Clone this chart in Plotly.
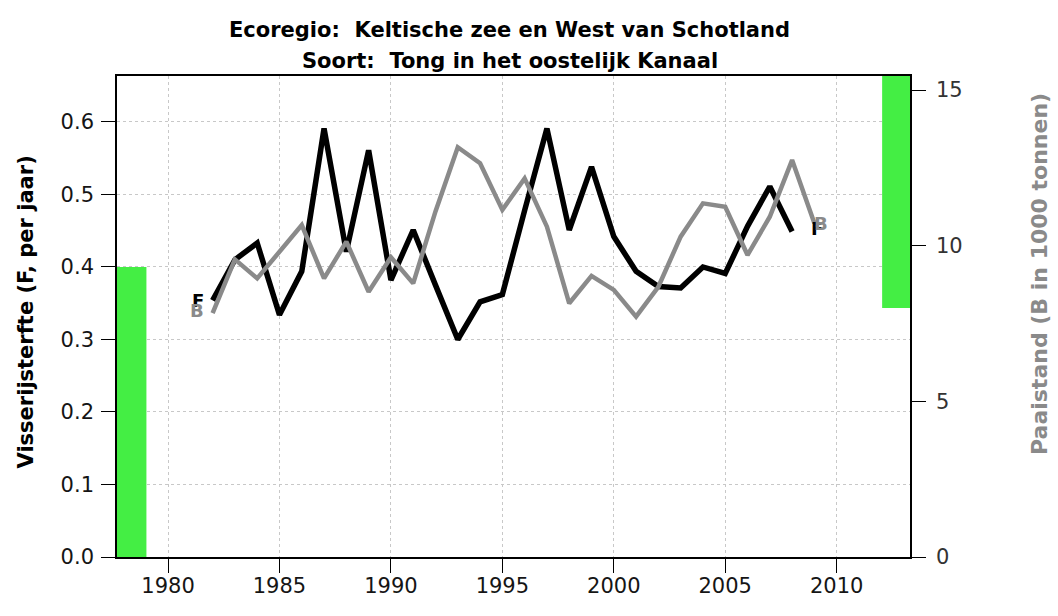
import plotly.graph_objects as go

# Fishing mortality (F) and spawning stock biomass (B, 1000 t) per year
years_F = list(range(1982, 2009))
F_values = [0.354, 0.41, 0.433, 0.334, 0.394, 0.591, 0.421, 0.561, 0.382, 0.451,
            0.375, 0.30, 0.352, 0.362, 0.478, 0.591, 0.451, 0.538, 0.442, 0.394,
            0.373, 0.371, 0.40, 0.391, 0.456, 0.511, 0.449]

years_B = list(range(1982, 2010))
B_values = [7.83, 9.56, 8.95, 9.81, 10.66, 8.95, 10.13, 8.52, 9.63, 8.79,
            11.1, 13.16, 12.65, 11.15, 12.16, 10.61, 8.15, 9.03, 8.58, 7.72,
            8.68, 10.29, 11.36, 11.25, 9.70, 10.93, 12.75, 10.72]

# Precautionary reference points
F_pa = 0.4
B_pa = 8.0

x_ticks = [1980, 1985, 1990, 1995, 2000, 2005, 2010]
y_ticks = [0.0, 0.1, 0.2, 0.3, 0.4, 0.5, 0.6]
y2_ticks = [0, 5, 10, 15]

X_RANGE = [1977.71, 2013.29]
Y_RANGE = [0, 0.6634]
Y2_RANGE = [0, 15.45]

GREEN = "#44EE44"
GREY = "#8a8a8a"
FONT = "DejaVu Sans, Verdana, sans-serif"

fig = go.Figure()

# Reference-point bars at the plot edges
left_w = 1979.03 - X_RANGE[0]
fig.add_trace(go.Bar(x=[X_RANGE[0] + left_w / 2], y=[F_pa], width=[left_w],
                     marker=dict(color=GREEN, line=dict(width=0)),
                     xaxis="x", yaxis="y", hoverinfo="skip"))
right_w = X_RANGE[1] - 2012.04
fig.add_trace(go.Bar(x=[X_RANGE[1] - right_w / 2], y=[Y2_RANGE[1] - B_pa + 1],
                     base=[B_pa], width=[right_w],
                     marker=dict(color=GREEN, line=dict(width=0)),
                     xaxis="x", yaxis="y2", hoverinfo="skip"))

fig.add_trace(go.Scatter(x=years_F, y=F_values, mode="lines",
                         line=dict(color="black", width=5.5),
                         xaxis="x", yaxis="y"))
fig.add_trace(go.Scatter(x=years_B, y=B_values, mode="lines",
                         line=dict(color=GREY, width=4.5),
                         xaxis="x", yaxis="y2"))

# Series labels at the start and end of each line
lab_font = dict(family=FONT, size=18)
fig.add_annotation(x=years_F[0] - 0.66, y=F_values[0], xref="x", yref="y",
                   text="<b>F</b>", showarrow=False,
                   font=dict(lab_font, color="black"))
fig.add_annotation(x=years_B[0] - 0.68, y=B_values[0] + 0.1, xref="x", yref="y2",
                   text="<b>B</b>", showarrow=False,
                   font=dict(lab_font, color=GREY))
fig.add_annotation(x=years_F[-1] + 1.1, y=F_values[-1] + 0.004, xref="x", yref="y",
                   text="<b>F</b>", showarrow=False,
                   font=dict(lab_font, color="black"))
fig.add_annotation(x=years_B[-1] + 0.3, y=B_values[-1], xref="x", yref="y2",
                   text="<b>B</b>", showarrow=False,
                   font=dict(lab_font, color=GREY))

# Two-line title
title_font = dict(family=FONT, size=21, color="black")
fig.add_annotation(x=0.5, y=1, xref="paper", yref="paper", yshift=46, xshift=-4,
                   yanchor="middle",
                   text="<b>Ecoregio:  Keltische zee en West van Schotland</b>",
                   showarrow=False, font=title_font)
fig.add_annotation(x=0.5, y=1, xref="paper", yref="paper", yshift=15, xshift=-4,
                   yanchor="middle",
                   text="<b>Soort:  Tong in het oostelijk Kanaal</b>",
                   showarrow=False, font=title_font)

# Axis titles
fig.add_annotation(x=0, y=0.5, xref="paper", yref="paper", xshift=-106, yshift=4,
                   text="<b>Visserijsterfte (F, per jaar)</b>", textangle=-90,
                   showarrow=False, font=dict(family=FONT, size=21, color="black"))
fig.add_annotation(x=1, y=0.5, xref="paper", yref="paper", xshift=144, yshift=42,
                   text="<b>Paaistand (B in 1000 tonnen)</b>", textangle=-90,
                   showarrow=False, font=dict(family=FONT, size=22, color=GREY))

axis_common = dict(ticks="outside", ticklen=14, tickwidth=1.3, tickcolor="black",
                   showline=True, linecolor="black", linewidth=1.6, zeroline=False)
tick_font = dict(family=FONT, size=21, color="#151515")

fig.update_layout(
    width=1058, height=616,
    margin=dict(l=117, r=148, t=76, b=59),
    paper_bgcolor="white", plot_bgcolor="white",
    showlegend=False, barmode="overlay",
    xaxis=dict(axis_common, range=X_RANGE, tickvals=x_ticks, mirror=True,
               showgrid=True, gridcolor="#c8c8c8", griddash="dot", gridwidth=1,
               tickfont=tick_font, ticklabelstandoff=-5),
    yaxis=dict(axis_common, range=Y_RANGE, tickvals=y_ticks, tickformat=".1f",
               showgrid=True, gridcolor="#c8c8c8", griddash="dot", gridwidth=1,
               tickfont=tick_font, ticklabelstandoff=3),
    yaxis2=dict(axis_common, range=Y2_RANGE, tickvals=y2_ticks, overlaying="y",
                side="right", showgrid=False,
                tickfont=dict(tick_font, color="#333"), ticklabelstandoff=6),
)

fig.write_html("out.html")
